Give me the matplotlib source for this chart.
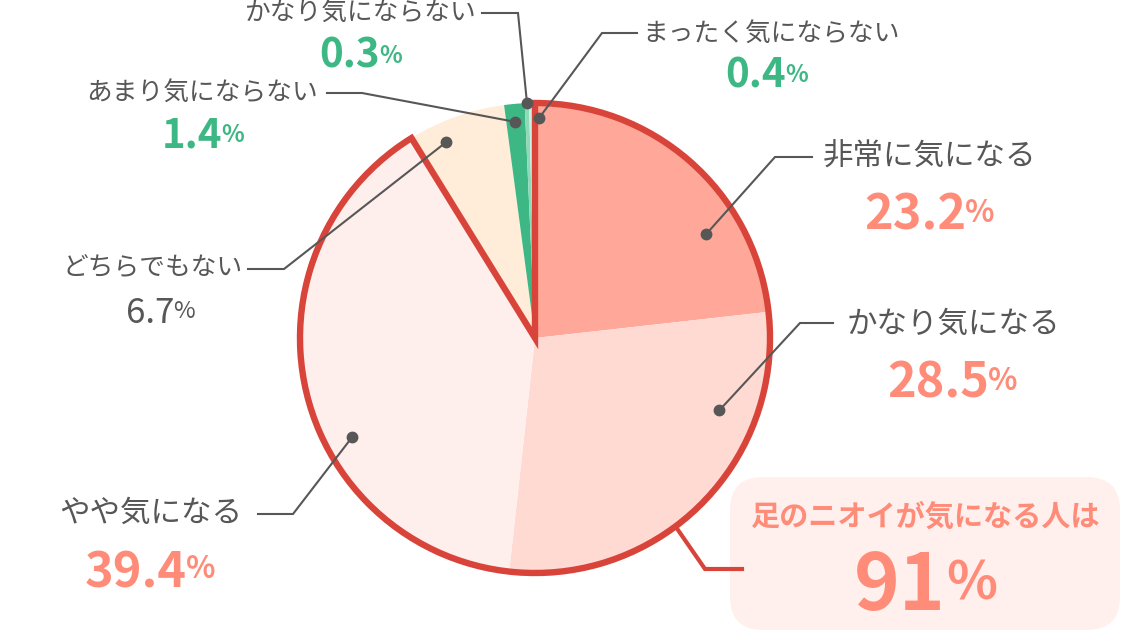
import numpy as np
import matplotlib
matplotlib.use('Agg')
import matplotlib.pyplot as plt #plotting functions
from matplotlib.patches import Wedge, FancyBboxPatch

plt.rcParams['font.family'] = ['Noto Sans CJK JP', 'DejaVu Sans']

# data
labels = ['非常に気になる', 'かなり気になる', 'やや気になる', 'どちらでもない',
          'あまり気にならない', 'かなり気にならない', 'まったく気にならない']
values = [23.2, 28.5, 39.4, 6.7, 1.4, 0.3, 0.4]
callout_title = '足のニオイが気になる人は'
callout_value = 91

# styles
slice_colors = ['#ffa899', '#ffdad3', '#ffefec', '#ffecd9', '#3db784', '#8fd9b8', '#cdefe1']
SALMON, GREEN, GRAY, RED = '#ff8c78', '#3db784', '#575757', '#d9443a'
num_colors = [SALMON, SALMON, SALMON, GRAY, GREEN, GREEN, GREEN]
num_bold = [True, True, True, False, True, True, True]
num_size = [35, 35, 35, 25, 29, 29, 29]
pct_size = [22, 22, 22, 17, 17, 17, 17]
label_size = [22, 22, 22, 18.5, 18.5, 18.5, 18.5]

# layout in pixels (top-left origin)
W, H = 1121, 633
cx, cy, R = 535, 338, 235
label_pos = [(823, 157, 'left'), (847, 324, 'left'), (242, 513, 'right'), (243, 269, 'right'),
             (318, 93, 'right'), (477, 13, 'right'), (642, 34, 'left')]
num_pos = [(966, 230, 222), (989, 397, 390), (187, 587, 578), (174, 323, 318),
           (222, 148, 142), (380, 68, 63), (786, 87, 82)]
dot_frac = [0.297, 0.729, 0.611, 0.70, 0.53, 0.47, -0.74]
dot_rad = [200, 198, 208, 215, 217, 235, 220]
elbows = [(775, 157), (800, 323), (293, 514), (284, 269), (362, 93), (518, 13), (602, 33)]
ends = [(812, 157), (833, 323), (258, 514), (248, 269), (327, 93), (482, 13), (637, 33)]

def Y(y): #flip pixel y to data y
    return H - y

fig = plt.figure(figsize=(W / 100, H / 100), dpi=100)
ax = fig.add_axes([0, 0, 1, 1])

wedges, _ = ax.pie(values, colors=slice_colors, startangle=90, counterclock=False,
                   center=(cx, Y(cy)), radius=R, wedgeprops=dict(linewidth=0))
ax.set_xlim(0, W)
ax.set_ylim(0, H)
ax.set_aspect('equal')
ax.axis('off')

# outline of the top three slices
outline = Wedge((cx, Y(cy)), R, wedges[2].theta1, wedges[0].theta2, fill=False,
                ec=RED, lw=4.6, joinstyle='miter', zorder=5)
ax.add_patch(outline)

# leader lines, labels and values
for i, w in enumerate(wedges):
    ang = np.radians(w.theta1 + dot_frac[i] * (w.theta2 - w.theta1))
    dx = cx + dot_rad[i] * np.cos(ang)
    dy = Y(cy) + dot_rad[i] * np.sin(ang)
    ex, ey = elbows[i]
    fx, fy = ends[i]
    ax.plot([dx, ex, fx], [dy, Y(ey), Y(fy)], color=GRAY, lw=1.5, zorder=6,
            solid_joinstyle='miter')
    ax.plot(dx, dy, 'o', color=GRAY, ms=7.5, zorder=7)
    lx, ly, ha = label_pos[i]
    ax.text(lx, Y(ly), labels[i], ha=ha, va='center', fontsize=label_size[i], color=GRAY)
    sx, by, pby = num_pos[i]
    wt = 'bold' if num_bold[i] else 'normal'
    ax.text(sx, Y(by), f'{values[i]:.1f}', ha='right', va='baseline',
            fontsize=num_size[i], color=num_colors[i], fontweight=wt)
    ax.text(sx - 1, Y(pby), '%', ha='left', va='baseline',
            fontsize=pct_size[i], color=num_colors[i], fontweight=wt)

# callout box
ax.plot([678, 705, 742], [Y(530), Y(569), Y(569)], color=RED, lw=3, zorder=4,
        solid_joinstyle='miter')
box = FancyBboxPatch((730, Y(630)), 390, 153, boxstyle='round,pad=0,rounding_size=33',
                     fc='#fff0ee', ec='none', zorder=3)
ax.add_patch(box)
ax.text(926, Y(517), callout_title, ha='center', va='center', fontsize=21,
        color=SALMON, fontweight='bold', zorder=6)
ax.text(946, Y(610), f'{callout_value}', ha='right', va='baseline', fontsize=56,
        color=SALMON, fontweight='bold', zorder=6)
ax.text(946, Y(600), '%', ha='left', va='baseline', fontsize=38,
        color=SALMON, fontweight='bold', zorder=6)

plt.savefig('out.png', dpi=100) #export as png
